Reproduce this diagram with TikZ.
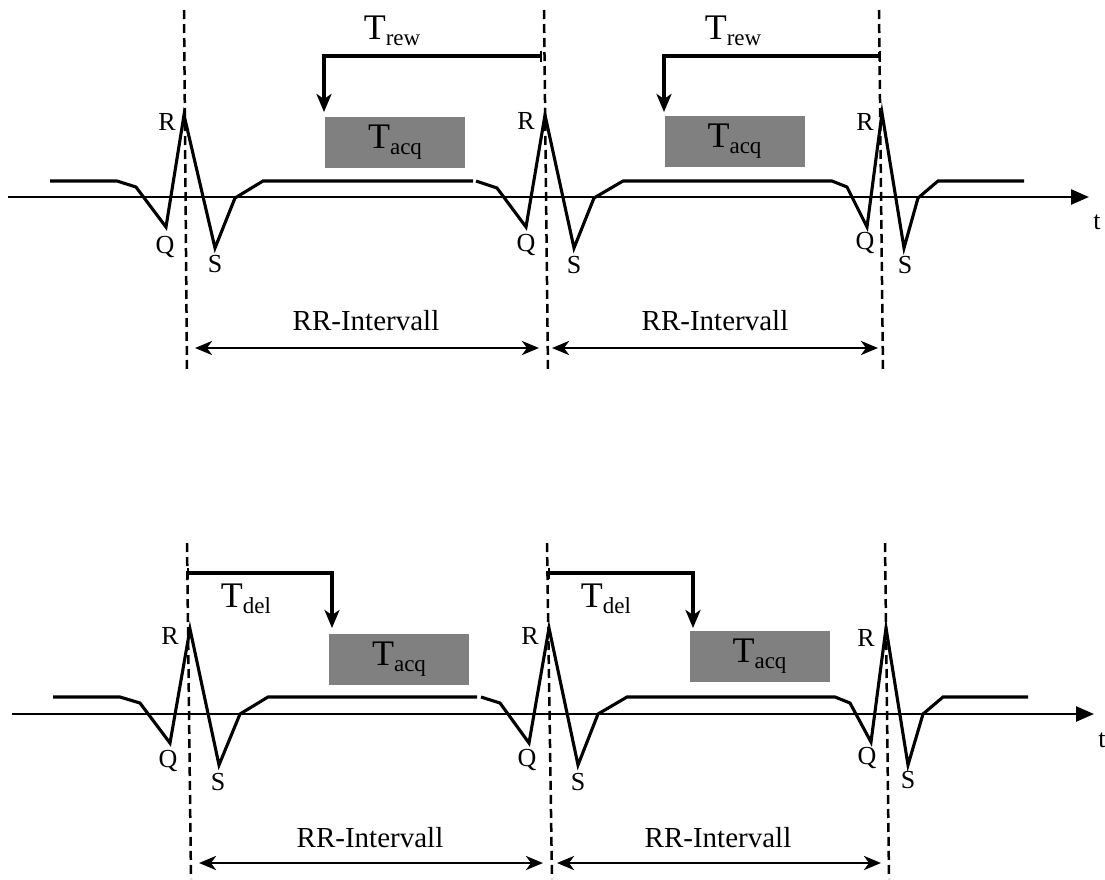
\documentclass[tikz,border=0pt]{standalone}
\usepackage{fontspec}
\setmainfont{Liberation Serif}
\usetikzlibrary{arrows.meta}
\definecolor{acqgray}{RGB}{128,128,128}
\newcommand{\Tsub}[1]{{\fontsize{36}{36}\selectfont T}\raisebox{-6pt}{\fontsize{23}{23}\selectfont #1}}
\tikzset{
  wave/.style={line width=3.1pt, line join=miter},
  taxis/.style={line width=2.5pt, -{Triangle[length=18pt,width=15pt]}},
  rline/.style={line width=2.5pt, dash pattern=on 9pt off 5pt},
  span/.style={line width=2.8pt, {Stealth[length=17pt,width=14pt,inset=5pt]}-{Stealth[length=17pt,width=14pt,inset=5pt]}},
  timing/.style={line width=3.8pt, {Bar[width=11pt,line width=2pt]}-{Stealth[length=18pt,width=15pt,inset=5pt]}},
  acqbox/.style={fill=acqgray, minimum width=140pt, minimum height=51pt, inner sep=0pt},
  peak/.style={font=\fontsize{26}{26}\selectfont, inner sep=0pt},
  rrtext/.style={font=\fontsize{29}{29}\selectfont, inner sep=0pt},
  tlabel/.style={inner sep=0pt}
}
\begin{document}
\begin{tikzpicture}[x=1pt, y=-1pt]
\useasboundingbox (0,0) rectangle (1105,879);

% ---------------- upper panel: retrospective triggering ----------------
% time axis
\coordinate (ta0) at (8,197);
\coordinate (ta1) at (1089,197);
\draw[taxis] (ta0) -- (ta1);
\node[peak] (tt) at (1097,222) {t};

% R-wave markers
\draw[rline] (184,10) coordinate (ra1) -- (187,372) coordinate (rb1);
\draw[rline] (544,10) coordinate (ra2) -- (548,372) coordinate (rb2);
\draw[rline] (879,10) coordinate (ra3) -- (883,372) coordinate (rb3);

% ECG trace
\draw[wave] (50,181) -- (117,181) -- (136,187) -- (166,227) -- (184,115)
  -- (215,248) -- (235,198) -- (263,181) -- (473,181);
\draw[wave] (476,181) -- (497,188) -- (526,227) -- (545,115) -- (574,248)
  -- (594,198) -- (623,181) -- (832,181) -- (847,187) -- (867,227)
  -- (882,113) -- (904,248) -- (918,198) -- (938,181) -- (1024,181);

% peak labels
\node[peak] (r1) at (167,122) {R};
\node[peak] (q1) at (165,247) {Q};
\node[peak] (s1) at (215,264) {S};
\node[peak] (r2) at (526,121) {R};
\node[peak] (q2) at (526,245) {Q};
\node[peak] (s2) at (574,265) {S};
\node[peak] (r3) at (865,122) {R};
\node[peak] (q3) at (865,243) {Q};
\node[peak] (s3) at (905,265) {S};

% acquisition windows
\node[acqbox] (acq1) at (395,142.5) {\Tsub{acq}};
\node[acqbox] (acq2) at (734.5,141.5) {\Tsub{acq}};

% look-back from the following R-wave
\coordinate (rw1s) at (542,56);
\coordinate (rw1e) at (324,112);
\coordinate (rw2s) at (881,56);
\coordinate (rw2e) at (664,112);
\draw[timing] (rw1s) -| (rw1e);
\draw[timing] (rw2s) -| (rw2e);
\node[tlabel] (trew1) at (392,31) {\Tsub{rew}};
\node[tlabel] (trew2) at (733,31) {\Tsub{rew}};

% RR intervals
\coordinate (rr1a) at (195,348);
\coordinate (rr1b) at (539,348);
\coordinate (rr2a) at (552,348);
\coordinate (rr2b) at (878,348);
\draw[span] (rr1a) -- (rr1b);
\draw[span] (rr2a) -- (rr2b);
\node[rrtext] (rrt1) at (366,321) {RR-Intervall};
\node[rrtext] (rrt2) at (715,321) {RR-Intervall};

% ---------------- lower panel: prospective triggering ----------------
\coordinate (tb0) at (12,714);
\coordinate (tb1) at (1094,714);
\draw[taxis] (tb0) -- (tb1);
\node[peak] (tt2) at (1102,740) {t};

\draw[rline] (187,543) coordinate (rc1) -- (191,879) coordinate (rd1);
\draw[rline] (547,543) coordinate (rc2) -- (552,879) coordinate (rd2);
\draw[rline] (885,543) coordinate (rc3) -- (889,879) coordinate (rd3);

\draw[wave] (53,697) -- (120,697) -- (140,703) -- (170,743) -- (190,629)
  -- (219,765) -- (240,714) -- (268,697) -- (477,697);
\draw[wave] (481,697) -- (500,703) -- (529,743) -- (549,628) -- (578,765)
  -- (598,714) -- (627,697) -- (835,697) -- (850,703) -- (871,742)
  -- (886,628) -- (908,765) -- (923,714) -- (943,697) -- (1028,697);

\node[peak] (r4) at (170,636) {R};
\node[peak] (q4) at (168,761) {Q};
\node[peak] (s4) at (218,782) {S};
\node[peak] (r5) at (530,636) {R};
\node[peak] (q5) at (527,760) {Q};
\node[peak] (s5) at (578,782) {S};
\node[peak] (r6) at (866,638) {R};
\node[peak] (q6) at (867,758) {Q};
\node[peak] (s6) at (908,780) {S};

\node[acqbox] (acq3) at (399,659) {\Tsub{acq}};
\node[acqbox] (acq4) at (759.5,656.5) {\Tsub{acq}};

% delay after the preceding R-wave
\coordinate (dl1s) at (187,573);
\coordinate (dl1e) at (332,628);
\coordinate (dl2s) at (548,573);
\coordinate (dl2e) at (693,628);
\draw[timing] (dl1s) -| (dl1e);
\draw[timing] (dl2s) -| (dl2e);
\node[tlabel] (tdel1) at (246,599) {\Tsub{del}};
\node[tlabel] (tdel2) at (606,599) {\Tsub{del}};

\coordinate (rr3a) at (199,863);
\coordinate (rr3b) at (543,863);
\coordinate (rr4a) at (557,863);
\coordinate (rr4b) at (881,863);
\draw[span] (rr3a) -- (rr3b);
\draw[span] (rr4a) -- (rr4b);
\node[rrtext] (rrt3) at (370,838) {RR-Intervall};
\node[rrtext] (rrt4) at (718,838) {RR-Intervall};
\end{tikzpicture}
\end{document}
